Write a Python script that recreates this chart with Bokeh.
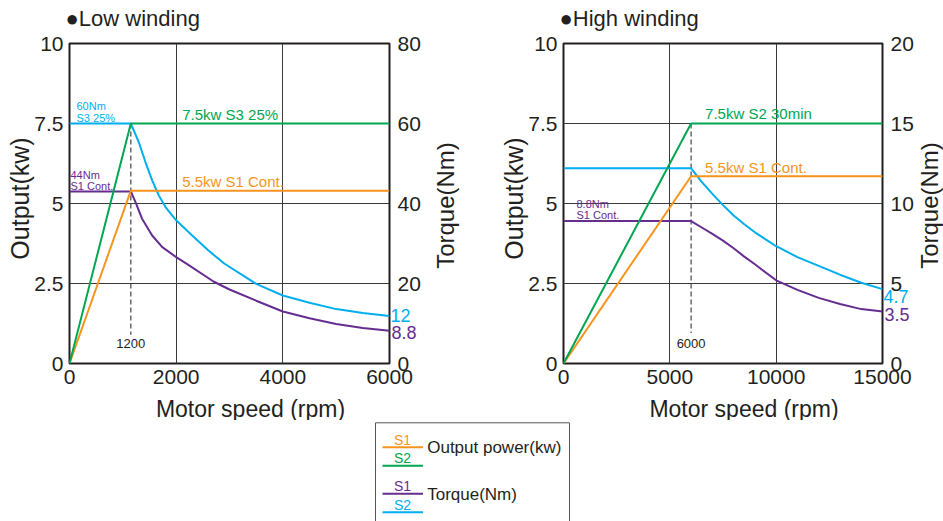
import math
from bokeh.plotting import figure
from bokeh.models import Range1d, LinearAxis, FixedTicker, CustomJSTickFormatter, Label, Spacer
from bokeh.layouts import row, column
from bokeh.embed import file_html
from bokeh.resources import INLINE

FONT = "Liberation Sans"
GREEN = "#00A651"
ORANGE = "#F7941D"
BLUE = "#00AEEF"
PURPLE = "#662D91"
INK = "#231F20"
GRID = "#3a3a3a"

# ---------------- data: Low winding ----------------
lo_title = "\u25cfLow winding"
lo_x_ticks = [0, 2000, 4000, 6000]
lo_kw_ticks = [0, 2.5, 5, 7.5, 10]
lo_nm_ticks = [0, 20, 40, 60, 80]
lo_base_speed = 1150
lo_base_label = "1200"
lo_power_speed = [0, 1150, 6000]
lo_power_s1 = [0, 5.4, 5.4]
lo_power_s2 = [0, 7.5, 7.5]
lo_torque_speed_s2 = [0, 1150, 1300, 1425, 1550, 1675, 1800, 2000, 2300, 2600, 2900, 3500, 4000, 4500, 5000, 5500, 6000]
lo_torque_s2 = [60, 60, 55.3, 50.3, 45.8, 42, 39.1, 35.8, 32, 28.3, 25, 19.9, 17, 15.2, 13.6, 12.6, 11.9]
lo_torque_speed_s1 = [0, 1150, 1240, 1360, 1550, 1740, 2000, 2200, 2700, 3000, 3500, 4000, 4500, 5000, 5500, 6000]
lo_torque_s1 = [43, 43, 40.3, 36.2, 32, 29.1, 26.6, 24.9, 20.5, 18.5, 15.7, 13, 11.3, 9.9, 8.9, 8.2]
lo_power_texts = ["7.5kw S3 25%", "5.5kw S1 Cont."]
lo_torque_texts_s2 = ["60Nm", "S3 25%"]
lo_torque_texts_s1 = ["44Nm", "S1 Cont."]
lo_end_texts = ["12", "8.8"]

# ---------------- data: High winding ----------------
hi_title = "\u25cfHigh winding"
hi_x_ticks = [0, 5000, 10000, 15000]
hi_kw_ticks = [0, 2.5, 5, 7.5, 10]
hi_nm_ticks = [0, 5, 10, 15, 20]
hi_base_speed = 6000
hi_base_label = "6000"
hi_power_speed = [0, 6000, 15000]
hi_power_s1 = [0, 5.85, 5.85]
hi_power_s2 = [0, 7.5, 7.5]
hi_torque_speed = [0, 6000, 6500, 7000, 7500, 8000, 8500, 9000, 10000, 11000, 12000, 13000, 14000, 15000]
hi_torque_s2 = [12.2, 12.2, 11.35, 10.6, 9.9, 9.25, 8.7, 8.2, 7.33, 6.65, 6.1, 5.55, 5.05, 4.65]
hi_torque_s1 = [8.9, 8.9, 8.5, 8.1, 7.68, 7.2, 6.68, 6.2, 5.2, 4.6, 4.1, 3.72, 3.4, 3.25]
hi_power_texts = ["7.5kw S2 30min", "5.5kw S1 Cont."]
hi_torque_texts_s1 = ["8.8Nm", "S1 Cont."]
hi_end_texts = ["4.7", "3.5"]

# legend
legend_groups = ["Output power(kw)", "Torque(Nm)"]
legend_s1_colors = [ORANGE, PURPLE]
legend_s2_colors = [GREEN, BLUE]

FRAME = 320


def lab(p, text, x, y, color=INK, size="14px", xo=0, yo=0, align="left",
        angle=0.0, yr="default", place=None):
    l = Label(x=x, y=y, text=text, x_offset=xo, y_offset=yo, text_color=color,
              text_font=FONT, text_font_size=size, text_align=align,
              text_baseline="middle", angle=angle, y_range_name=yr)
    if place is None:
        p.add_layout(l)
    else:
        p.add_layout(l, place)


def style_axis(ax, ticks, size="21px", color=INK, standoff=6, fmt=None):
    ax.ticker = FixedTicker(ticks=ticks)
    ax.formatter = fmt or CustomJSTickFormatter(code="return String(tick)")
    ax.major_tick_out = 0
    ax.major_tick_in = 0
    ax.minor_tick_out = 0
    ax.minor_tick_in = 0
    ax.axis_line_color = None
    ax.major_label_text_font = FONT
    ax.major_label_text_font_size = size
    ax.major_label_text_color = color
    ax.major_label_standoff = int(standoff)


def make_chart(width, left_border, x_ticks, kw_ticks, nm_ticks, title,
               end_ticks, end_texts, end_colors, end_widths):
    p = figure(width=width, height=420, output_backend="svg", toolbar_location=None,
               x_range=Range1d(x_ticks[0], x_ticks[-1]),
               y_range=Range1d(kw_ticks[0], kw_ticks[-1]),
               min_border_left=left_border, min_border_right=width - left_border - FRAME,
               min_border_top=43, min_border_bottom=57)
    p.extra_y_ranges = {"torque": Range1d(nm_ticks[0], nm_ticks[-1])}
    style_axis(p.xaxis[0], x_ticks, standoff=6)
    style_axis(p.yaxis[0], kw_ticks)
    # end-of-curve value labels right next to the frame (coloured), then torque ticks
    origin = 0
    for i in range(len(end_texts)):
        ax = LinearAxis(y_range_name="torque")
        so = int(round(1 - origin))
        style_axis(ax, [end_ticks[i]], size="18px", color=end_colors[i], standoff=so,
                   fmt=CustomJSTickFormatter(code="return '%s'" % end_texts[i]))
        p.add_layout(ax, "right")
        origin += so + end_widths[i]
    tq = LinearAxis(y_range_name="torque")
    style_axis(tq, nm_ticks, standoff=int(round(6 - origin)))
    p.add_layout(tq, "right")
    p.xgrid.ticker = FixedTicker(ticks=x_ticks)
    p.ygrid.ticker = FixedTicker(ticks=kw_ticks)
    p.grid.grid_line_color = GRID
    p.grid.grid_line_width = 1
    p.outline_line_color = INK
    p.outline_line_width = 2
    p.background_fill_color = "white"
    p.border_fill_color = "white"
    # titles placed in the side panels (not clipped to the frame)
    xmid = (x_ticks[0] + x_ticks[-1]) / 2
    lab(p, title, x_ticks[0], kw_ticks[-1], INK, "22px", xo=-4, yo=25, place="above")
    lab(p, "Output(kw)", x_ticks[0], kw_ticks[2], INK, "25px", xo=-50, yo=5,
        align="center", angle=math.pi / 2, place="left")
    lab(p, "Motor speed (rpm)", xmid, kw_ticks[0], INK, "23px", xo=21, yo=-45,
        align="center", place="below")
    return p


# ---------------- Low winding chart ----------------
p1 = make_chart(497, 69, lo_x_ticks, lo_kw_ticks, lo_nm_ticks, lo_title,
                [lo_torque_s2[-1], lo_torque_s1[-1] - 2 / 4.0], lo_end_texts,
                [BLUE, PURPLE], [22, 27])
lab(p1, "Torque(Nm)", lo_x_ticks[-1], lo_nm_ticks[2], INK, "24px", xo=56, yo=-2,
    align="center", angle=math.pi / 2, yr="torque", place="right")
p1.line([lo_base_speed, lo_base_speed], [lo_power_s2[1], 0.9], line_color="#444444",
        line_width=1.2, line_dash="5 3")
p1.line(lo_torque_speed_s1, lo_torque_s1, line_color=PURPLE, line_width=2, y_range_name="torque")
p1.line(lo_torque_speed_s2, lo_torque_s2, line_color=BLUE, line_width=2, y_range_name="torque")
p1.line(lo_power_speed, lo_power_s1, line_color=ORANGE, line_width=2)
p1.line(lo_power_speed, lo_power_s2, line_color=GREEN, line_width=2)
lab(p1, lo_power_texts[0], 2000, lo_power_s2[-1], GREEN, "15px", xo=6, yo=9)
lab(p1, lo_power_texts[1], 2000, lo_power_s1[-1], ORANGE, "15px", xo=6, yo=9)
lab(p1, lo_torque_texts_s2[0], 0, lo_torque_s2[0], BLUE, "11px", xo=7, yo=17.5, yr="torque")
lab(p1, lo_torque_texts_s2[1], 0, lo_torque_s2[0], BLUE, "11px", xo=7, yo=6, yr="torque")
lab(p1, lo_torque_texts_s1[0], 0, lo_torque_s1[0], PURPLE, "11px", xo=1, yo=17, yr="torque")
lab(p1, lo_torque_texts_s1[1], 0, lo_torque_s1[0], PURPLE, "11px", xo=1, yo=6, yr="torque")
lab(p1, lo_base_label, lo_base_speed, 0, INK, "13px", yo=20, align="center")

# ---------------- High winding chart ----------------
p2 = make_chart(446, 66, hi_x_ticks, hi_kw_ticks, hi_nm_ticks, hi_title,
                [hi_torque_s2[-1] - 7.5 / 16.0, hi_torque_s1[-1] - 3 / 16.0], hi_end_texts,
                [BLUE, PURPLE], [27, 27])
lab(p2, "Torque(Nm)", hi_x_ticks[-1], hi_nm_ticks[2], INK, "24px", xo=47, yo=-2,
    align="center", angle=math.pi / 2, yr="torque", place="right")
p2.line([hi_base_speed, hi_base_speed], [hi_power_s2[1], 0.95], line_color="#444444",
        line_width=1.2, line_dash="5 3")
p2.line(hi_torque_speed, hi_torque_s1, line_color=PURPLE, line_width=2, y_range_name="torque")
p2.line(hi_torque_speed, hi_torque_s2, line_color=BLUE, line_width=2, y_range_name="torque")
p2.line(hi_power_speed, hi_power_s1, line_color=ORANGE, line_width=2)
p2.line(hi_power_speed, hi_power_s2, line_color=GREEN, line_width=2)
lab(p2, hi_power_texts[0], hi_base_speed, hi_power_s2[-1], GREEN, "15px", xo=14, yo=10)
lab(p2, hi_power_texts[1], hi_base_speed, hi_power_s1[-1], ORANGE, "15px", xo=14, yo=9)
lab(p2, hi_torque_texts_s1[0], 0, hi_torque_s1[0], PURPLE, "11px", xo=13, yo=17.5, yr="torque")
lab(p2, hi_torque_texts_s1[1], 0, hi_torque_s1[0], PURPLE, "11px", xo=13, yo=6.5, yr="torque")
lab(p2, hi_base_label, hi_base_speed, 0, INK, "13px", yo=20, align="center")

# ---------------- legend box ----------------
leg = figure(width=196, height=101, output_backend="svg", toolbar_location=None,
             x_range=Range1d(0, 196), y_range=Range1d(101, 0),
             x_axis_location=None, y_axis_location=None, min_border=0)
leg.grid.visible = False
leg.outline_line_color = None
leg.background_fill_color = "white"
leg.border_fill_color = "white"
leg.line([1, 1, 195, 195], [101, 2.3, 2.3, 101], line_color="#555555", line_width=1)
for i, grp in enumerate(legend_groups):
    y0 = 26.7 + i * 46.5
    leg.line([8, 48.5], [y0, y0], line_color=legend_s1_colors[i], line_width=2)
    leg.line([8, 48.5], [y0 + 18.5, y0 + 18.5], line_color=legend_s2_colors[i], line_width=2)
    lab(leg, "S1", 28, y0 - 7.5, legend_s1_colors[i], "14px", align="center")
    lab(leg, "S2", 28, y0 + 11, legend_s2_colors[i], "14px", align="center")
    lab(leg, grp, 52.7, y0 + (0 if i == 0 else 1), INK, "17px")

layout = column(row(p1, p2), row(Spacer(width=374, height=101), leg))
open("out.html", "w").write(file_html(layout, INLINE))
